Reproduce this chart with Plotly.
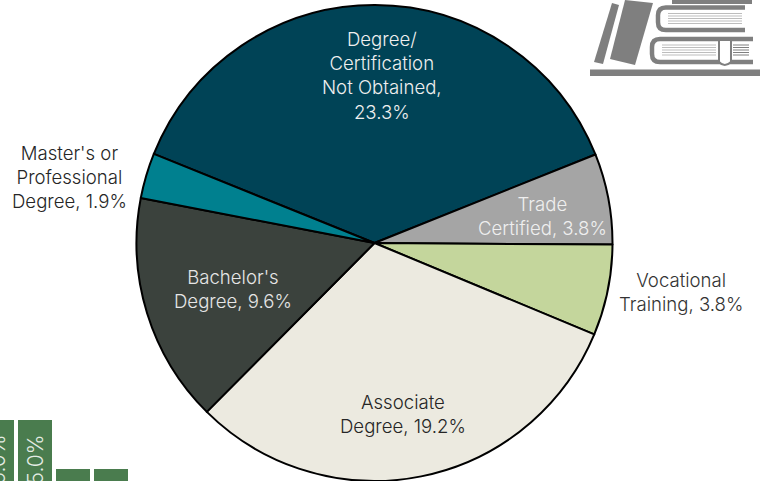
import plotly.graph_objects as go

W, H = 770, 481

# Pie data
names = ["Degree/<br>Certification<br>Not Obtained,", "Trade<br>Certified,", "Vocational<br>Training,",
         "Associate<br>Degree,", "Bachelor's<br>Degree,", "Master's or<br>Professional<br>Degree,"]
values = [23.3, 3.8, 3.8, 19.2, 9.6, 1.9]
value_breaks = ["<br>", " ", " ", " ", " ", " "]
pie_colors = ["#004356", "#A5A5A5", "#C4D69C", "#ECEAE0", "#3B423D", "#00808F"]
text_colors = ["#EFEFEF", "#EFEFEF", "#333333", "#262626", "#E6E6E6", "#262626"]
label_x = [382, 542, 681, 403, 233, 69]
label_y = [75, 216, 291.5, 413.5, 289, 177]

# Cropped bar chart at lower left
bar_cats = [0, 1, 2, 3]
bar_vals = [5.0, 5.0, 1.9, 1.9]
bar_text = ["5.0%", "5.0%", "", ""]

px = lambda x: x / W
py = lambda y: 1 - y / H

FONT = "Inter"
fig = go.Figure()
fig.add_trace(go.Pie(
    values=values, labels=[n.replace("<br>", " ") for n in names], sort=False, direction="clockwise",
    rotation=-68.0, textinfo="none", showlegend=False, hoverinfo="label+value",
    marker=dict(colors=pie_colors, line=dict(color="#000000", width=2)),
    domain=dict(x=[px(136), px(613)], y=[py(481), py(5)]),
))
fig.add_trace(go.Bar(
    x=bar_cats, y=bar_vals, text=bar_text, textposition="inside", textangle=-90,
    insidetextanchor="middle", constraintext="none", width=34 / 38, showlegend=False,
    marker=dict(color="#4A7C4E", line=dict(width=0)),
    textfont=dict(family=FONT, size=21, color="#E4ECE4", weight=300),
    xaxis="x", yaxis="y",
))

annotations = []
for n, v, br, c, x, y in zip(names, values, value_breaks, text_colors, label_x, label_y):
    annotations.append(dict(
        text=f"{n}{br}{v:.1f}%", x=px(x), y=py(y), xref="paper", yref="paper",
        showarrow=False, align="center", xanchor="center", yanchor="middle",
        font=dict(family=FONT, size=18.6, color=c, weight=300),
    ))

GRAY = "#7F7F7F"
LIGHT = "#BDBDBD"
def P(pts):
    return "M " + " L ".join(f"{px(x):.5f},{py(y):.5f}" for x, y in pts) + " Z"
def poly(pts):
    return dict(type="path", path=P(pts), xref="paper", yref="paper", fillcolor=GRAY, line=dict(width=0), layer="above")
def line(x0, y0, x1, y1, w=1, c=GRAY):
    return dict(type="line", x0=px(x0), y0=py(y0), x1=px(x1), y1=py(y1), xref="paper", yref="paper",
                line=dict(color=c, width=w), layer="above")
def book(xl, xr, yt, yb):
    r = (yb - yt) / 2
    path = (f"M {px(xr):.5f},{py(yt):.5f} L {px(xl + r * .7):.5f},{py(yt):.5f} "
            f"Q {px(xl):.5f},{py(yt):.5f} {px(xl):.5f},{py(yt + r * .7):.5f} "
            f"L {px(xl):.5f},{py(yb - r * .7):.5f} "
            f"Q {px(xl):.5f},{py(yb):.5f} {px(xl + r * .7):.5f},{py(yb):.5f} L {px(xr):.5f},{py(yb):.5f}")
    return dict(type="path", path=path, xref="paper", yref="paper", line=dict(color=GRAY, width=4.5), layer="above")

shapes = [
    dict(type="rect", x0=px(590), x1=px(760), y0=py(69.5), y1=py(76), xref="paper", yref="paper",
         fillcolor=GRAY, line=dict(width=0), layer="above"),
    poly([(612, 3), (619, 5), (603, 64), (594, 62)]),
    poly([(625, 0), (653, 3), (635, 65), (610, 59)]),
    book(658, 745, 7.5, 30),
    book(652, 753, 39, 62),
    poly([(672, 0), (752, 0), (752, 4), (672, 4)]),
]
for y in [13.5, 16, 18.5, 21, 23.5]:
    shapes.append(line(668, y, 742, y, 1, LIGHT))
for y in [45, 47.5, 50, 52.5, 55]:
    shapes.append(line(662, y, 716, y, 1, LIGHT))
    shapes.append(line(733, y, 749, y, 1, GRAY))
shapes.append(dict(type="path",
    path=(f"M {px(719):.5f},{py(40):.5f} L {px(719):.5f},{py(62):.5f} "
          f"Q {px(724.5):.5f},{py(68):.5f} {px(731):.5f},{py(62):.5f} L {px(731):.5f},{py(40):.5f} Z"),
    xref="paper", yref="paper", fillcolor="#FFFFFF", line=dict(color=GRAY, width=2), layer="above"))

fig.update_layout(
    width=W, height=H, margin=dict(l=0, r=0, t=0, b=0), paper_bgcolor="#FFFFFF", plot_bgcolor="rgba(0,0,0,0)",
    annotations=annotations, shapes=shapes,
    xaxis=dict(domain=[0, px(130)], range=[3 / 38, 133 / 38], visible=False, fixedrange=True),
    yaxis=dict(domain=[0, 61 / H], range=[1.14, 5.0], visible=False, fixedrange=True),
)
fig.write_html("out.html", config=dict(displayModeBar=False),
               post_script="document.body.style.margin='0';document.body.style.overflow='hidden';")
